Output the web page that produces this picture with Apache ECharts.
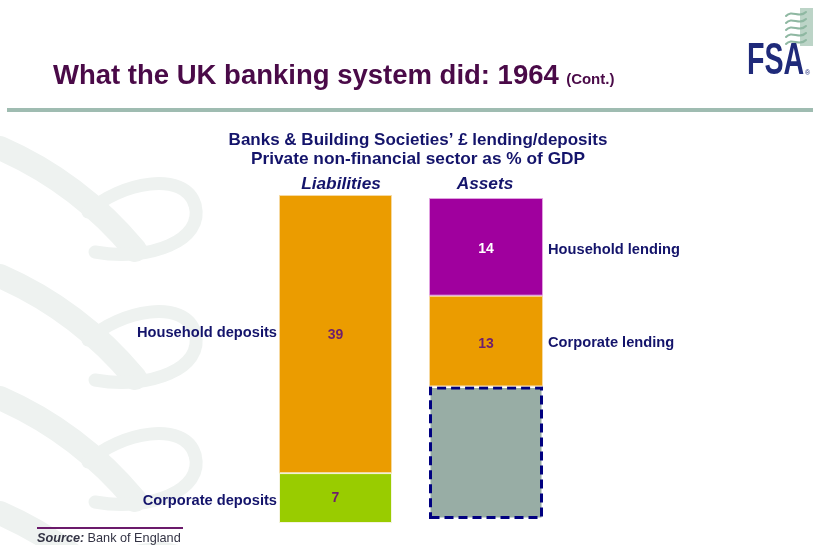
<!DOCTYPE html>
<html>
<head>
<meta charset="utf-8">
<style>
  html, body { margin: 0; padding: 0; background: #ffffff; }
  #chart { width: 813px; height: 545px; }
</style>
<script src="https://cdn.jsdelivr.net/npm/echarts@6/dist/echarts.min.js"></script>
</head>
<body>
<div id="chart"></div>
<script>
// Sector balances, % of GDP
const liabilityNames = ['Corporate deposits', 'Household deposits'];
const liabilityValues = [7, 39];
const assetNames = ['Funding gap', 'Corporate lending', 'Household lending'];
const assetValues = [19, 13, 14];
const columnTitles = ['Liabilities', 'Assets'];

const NAVY = '#14146b';
const FONT = 'Liberation Sans, Arial, sans-serif';
const chart = echarts.init(document.getElementById('chart'), null, { renderer: 'canvas' });

const valueLabel = (color) => ({
  show: true, position: 'inside', color: color,
  fontFamily: FONT, fontWeight: 'bold', fontSize: 14
});

function curve(x1, y1, cx1, cy1, cx2, cy2, x2, y2, color, width, z) {
  return {
    type: 'bezierCurve', silent: true, z: z,
    shape: { x1: x1, y1: y1, cpx1: cx1, cpy1: cy1, cpx2: cx2, cpy2: cy2, x2: x2, y2: y2 },
    style: { stroke: color, lineWidth: width, fill: null, lineCap: 'round' }
  };
}

// decorative background loops down the left side
const BG = '#eef2f0';
const bgLoops = [];
[0, 128, 250, 365].forEach(function (dy) {
  bgLoops.push(curve(0, 148 + dy, 55, 172 + dy, 100, 208 + dy, 135, 250 + dy, BG, 24, -10));
  bgLoops.push(curve(88, 212 + dy, 120, 182 + dy, 185, 170 + dy, 195, 205 + dy, BG, 13, -10));
  bgLoops.push(curve(195, 205 + dy, 205, 240 + dy, 150, 262 + dy, 95, 252 + dy, BG, 13, -10));
});

// small swirl motif of the logo
const LOGO_G = '#8fb8a2';
const logoSwirls = [{
  type: 'rect', silent: true,
  shape: { x: 800, y: 8, width: 13, height: 38 },
  style: { fill: 'rgba(143,184,162,0.6)' }
}];
for (let i = 0; i < 5; i++) {
  const y = 13 + i * 7;
  logoSwirls.push(curve(786, y + 3, 792, y - 4, 799, y + 6, 806, y - 1, LOGO_G, 2, 1));
}

const option = {
  animation: false,
  backgroundColor: '#ffffff',
  grid: [
    { left: 279, top: 195, width: 113, height: 328 },
    { left: 429, top: 198, width: 114, height: 321 }
  ],
  xAxis: [
    { type: 'category', gridIndex: 0, data: [columnTitles[0]], show: false },
    { type: 'category', gridIndex: 1, data: [columnTitles[1]], show: false }
  ],
  yAxis: [
    { type: 'value', gridIndex: 0, min: 0, max: 46, show: false, splitLine: { show: false } },
    { type: 'value', gridIndex: 1, min: 0, max: 46, show: false, splitLine: { show: false } }
  ],
  series: [
    {
      name: liabilityNames[0], type: 'bar', stack: 'L', xAxisIndex: 0, yAxisIndex: 0, barWidth: '100%',
      data: [liabilityValues[0]],
      itemStyle: { color: '#99cc00', borderColor: '#f4f4e0', borderWidth: 1 },
      label: valueLabel('#6e1f6e')
    },
    {
      name: liabilityNames[1], type: 'bar', stack: 'L', xAxisIndex: 0, yAxisIndex: 0, barWidth: '100%',
      data: [liabilityValues[1]],
      itemStyle: { color: '#eb9c00', borderColor: '#f6d9a0', borderWidth: 1 },
      label: Object.assign(valueLabel('#6e1f6e'), { offset: [0, 1] })
    },
    {
      name: assetNames[0], type: 'bar', stack: 'A', xAxisIndex: 1, yAxisIndex: 1, barWidth: '100%',
      data: [assetValues[0]],
      itemStyle: { color: '#98ada5', borderColor: '#000080', borderWidth: 3, borderType: [9, 5] },
      label: { show: false }
    },
    {
      name: assetNames[1], type: 'bar', stack: 'A', xAxisIndex: 1, yAxisIndex: 1, barWidth: '100%',
      data: [assetValues[1]],
      itemStyle: { color: '#eb9c00', borderColor: '#f6d9a0', borderWidth: 1 },
      label: Object.assign(valueLabel('#6e1f6e'), { offset: [0, 3] })
    },
    {
      name: assetNames[2], type: 'bar', stack: 'A', xAxisIndex: 1, yAxisIndex: 1, barWidth: '100%',
      data: [assetValues[2]],
      itemStyle: { color: '#a0009e', borderColor: '#e0a0e0', borderWidth: 1 },
      label: Object.assign(valueLabel('#ffffff'), { offset: [0, 2] })
    }
  ]
};
chart.setOption(option);

// segment names placed beside their bar segments, using the axes' own scales
function segMid(gridIdx, values, i) {
  let base = 0;
  for (let k = 0; k < i; k++) base += values[k];
  const mid = base + values[i] / 2;
  return chart.convertToPixel({ xAxisIndex: gridIdx, yAxisIndex: gridIdx }, [0, mid])[1];
}
const labelFont = { fontFamily: FONT, fontWeight: 'bold', fontSize: 14.67 };

const sideLabels = [];
const liabNudge = [3, -1];
liabilityNames.forEach(function (n, i) {
  sideLabels.push({
    type: 'text', x: 277, y: segMid(0, liabilityValues, i) + liabNudge[i],
    style: Object.assign({ text: n, fill: NAVY, textAlign: 'right', textVerticalAlign: 'middle' }, labelFont)
  });
});
const assetNudge = [0, 2, 3];
[1, 2].forEach(function (i) {
  sideLabels.push({
    type: 'text', x: 548, y: segMid(1, assetValues, i) + assetNudge[i],
    style: Object.assign({ text: assetNames[i], fill: NAVY, textAlign: 'left', textVerticalAlign: 'middle' }, labelFont)
  });
});

chart.setOption({
  graphic: bgLoops.concat(logoSwirls).concat(sideLabels).concat([
    // heading
    {
      type: 'text', x: 53, y: 76,
      style: {
        rich: {
          a: { fontFamily: FONT, fontWeight: 'bold', fontSize: 27.5, fill: '#4a0a48' },
          b: { fontFamily: FONT, fontWeight: 'bold', fontSize: 15, fill: '#4a0a48', padding: [7, 0, 0, 4] }
        },
        text: '{a|What the UK banking system did: 1964} {b|(Cont.)}',
        textVerticalAlign: 'middle'
      }
    },
    // rule under heading
    { type: 'rect', shape: { x: 7, y: 108, width: 806, height: 4 }, style: { fill: '#9fbcb1' } },
    // logo
    {
      type: 'text', x: 747, y: 62, scaleX: 0.65,
      style: { text: 'FSA', fill: '#1f2a7a', fontFamily: FONT, fontWeight: 'bold', fontSize: 44, textVerticalAlign: 'middle' }
    },
    {
      type: 'text', x: 805, y: 77,
      style: { text: '®', fill: '#1f2a7a', fontFamily: FONT, fontSize: 7, textVerticalAlign: 'bottom' }
    },
    // chart titles
    {
      type: 'text', x: 418, y: 140,
      style: { text: 'Banks & Building Societies’ £ lending/deposits', fill: NAVY, fontFamily: FONT, fontWeight: 'bold', fontSize: 17, textAlign: 'center', textVerticalAlign: 'middle' }
    },
    {
      type: 'text', x: 418, y: 159,
      style: { text: 'Private non-financial sector as % of GDP', fill: NAVY, fontFamily: FONT, fontWeight: 'bold', fontSize: 17.3, textAlign: 'center', textVerticalAlign: 'middle' }
    },
    {
      type: 'text', x: 341, y: 184,
      style: { text: columnTitles[0], fill: NAVY, fontFamily: FONT, fontWeight: 'bold', fontStyle: 'italic', fontSize: 17.3, textAlign: 'center', textVerticalAlign: 'middle' }
    },
    {
      type: 'text', x: 485, y: 184,
      style: { text: columnTitles[1], fill: NAVY, fontFamily: FONT, fontWeight: 'bold', fontStyle: 'italic', fontSize: 17.3, textAlign: 'center', textVerticalAlign: 'middle' }
    },
    // source
    { type: 'rect', shape: { x: 37, y: 527, width: 146, height: 2 }, style: { fill: '#6b1a6b' } },
    {
      type: 'text', x: 37, y: 538,
      style: {
        rich: {
          s: { fontFamily: FONT, fontWeight: 'bold', fontStyle: 'italic', fontSize: 12.7, fill: '#333344' },
          t: { fontFamily: FONT, fontSize: 12.7, fill: '#333344' }
        },
        text: '{s|Source:} {t|Bank of England}',
        textVerticalAlign: 'middle'
      }
    }
  ])
});
</script>
</body>
</html>
